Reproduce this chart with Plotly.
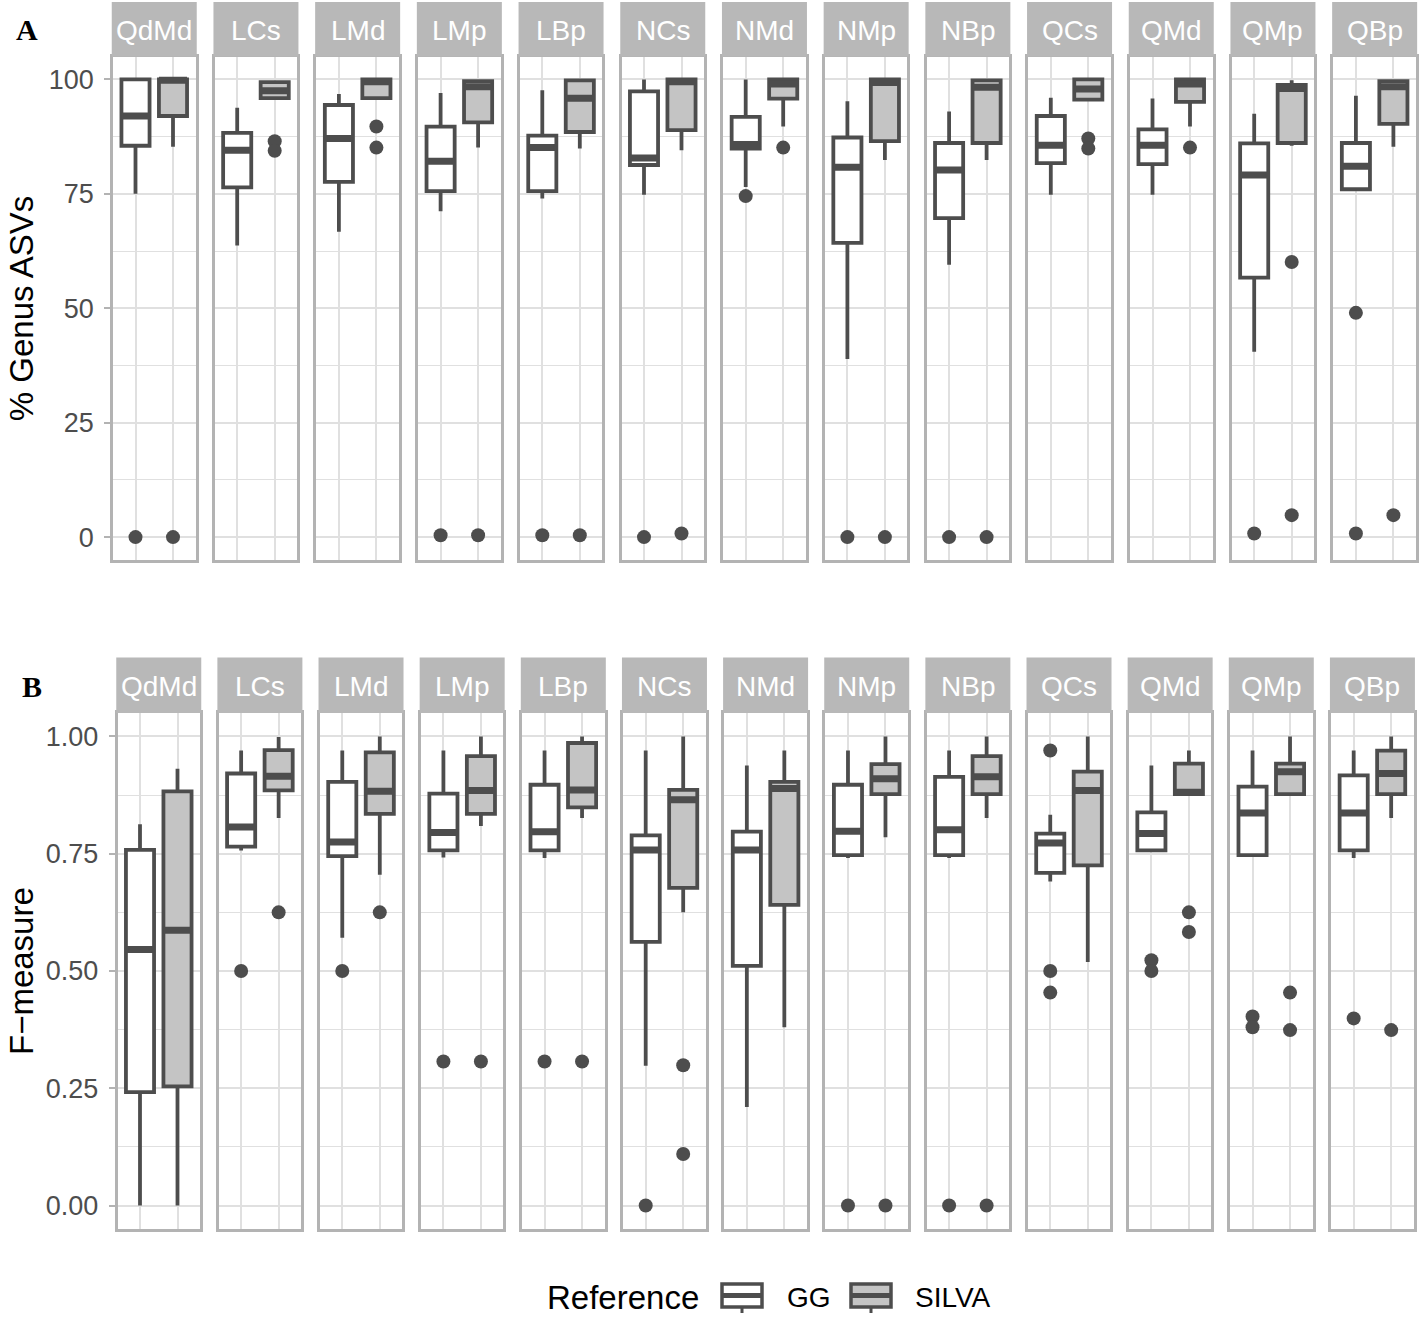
import plotly.graph_objects as go

panels = ["QdMd", "LCs", "LMd", "LMp", "LBp", "NCs", "NMd",
          "NMp", "NBp", "QCs", "QMd", "QMp", "QBp"]
references = ["GG", "SILVA"]

# A: % Genus ASVs, box statistics per panel
a_gg_low = [75, 63.7, 66.7, 71.2, 74, 74.8, 76.5, 38.9, 59.5, 74.8, 74.8, 40.5, 75.6]
a_gg_q1 = [85.5, 76.4, 77.6, 75.6, 75.6, 81.3, 84.9, 64.3, 69.7, 81.7, 81.5, 56.7, 76]
a_gg_med = [92, 84.5, 87.1, 82.1, 85.1, 82.8, 85.8, 80.8, 80.2, 85.6, 85.6, 79.1, 81]
a_gg_q3 = [100, 88.3, 94.4, 89.7, 87.7, 97.4, 91.8, 87.3, 86.1, 92, 89.1, 86, 86.1]
a_gg_high = [100, 93.8, 96.8, 97, 97.6, 100, 100, 95.2, 93, 96, 95.8, 92.5, 96.4]
a_gg_out = [[0], [], [], [0.4], [0.4], [0], [74.5], [0], [0], [], [], [0.8], [49, 0.8]]

a_silva_low = [85.3, 95.9, 95.9, 85.1, 84.9, 84.5, 89.7, 82.4, 82.4, 95.6, 89.7, 85.5, 85.3]
a_silva_q1 = [92, 95.9, 95.9, 90.6, 88.5, 88.9, 95.8, 86.5, 86.1, 95.6, 95.1, 86.1, 90.3]
a_silva_med = [99.8, 97.5, 99.5, 98.4, 95.9, 99.5, 99, 99.3, 98.3, 97.9, 99, 98, 98.4]
a_silva_q3 = [100, 99.4, 100, 99.6, 99.8, 100, 100, 100, 99.8, 100, 100, 98.8, 99.6]
a_silva_high = [100, 99.4, 100, 100, 100, 100, 100, 100, 100, 100, 100, 99.8, 100]
a_silva_out = [[0], [86.5, 84.4], [89.7, 85.1], [0.4], [0.4], [0.8], [85.1], [0], [0],
               [87.1, 84.9], [85.1], [60.1, 4.8], [4.8]]

# B: F-measure
b_gg_low = [0, 0.757, 0.571, 0.742, 0.741, 0.298, 0.210, 0.741, 0.741, 0.691, 0.757, 0.747, 0.741]
b_gg_q1 = [0.242, 0.765, 0.745, 0.757, 0.757, 0.562, 0.511, 0.747, 0.747, 0.709, 0.757, 0.747, 0.757]
b_gg_med = [0.546, 0.807, 0.775, 0.795, 0.797, 0.758, 0.758, 0.798, 0.801, 0.773, 0.793, 0.837, 0.837]
b_gg_q3 = [0.758, 0.921, 0.903, 0.878, 0.897, 0.789, 0.797, 0.897, 0.914, 0.793, 0.838, 0.893, 0.917]
b_gg_high = [0.813, 0.970, 0.970, 0.970, 0.970, 0.970, 0.938, 0.970, 0.970, 0.833, 0.938, 0.970, 0.970]
b_gg_out = [[], [0.5], [0.5], [0.307], [0.307], [0], [], [0], [0],
            [0.970, 0.5, 0.454], [0.523, 0.5], [0.403, 0.380], [0.399]]

b_silva_low = [0, 0.826, 0.705, 0.809, 0.826, 0.625, 0.380, 0.785, 0.826, 0.519, 0.877, 0.877, 0.826]
b_silva_q1 = [0.254, 0.885, 0.835, 0.835, 0.849, 0.677, 0.641, 0.877, 0.877, 0.725, 0.877, 0.877, 0.877]
b_silva_med = [0.587, 0.915, 0.883, 0.885, 0.886, 0.865, 0.889, 0.910, 0.914, 0.885, 0.881, 0.925, 0.921]
b_silva_q3 = [0.883, 0.971, 0.966, 0.958, 0.986, 0.886, 0.903, 0.941, 0.958, 0.925, 0.942, 0.942, 0.970]
b_silva_high = [0.931, 0.999, 1.0, 1.0, 1.0, 1.0, 0.970, 1.0, 1.0, 1.0, 0.970, 1.0, 1.0]
b_silva_out = [[], [0.625], [0.625], [0.307], [0.307], [0.299, 0.110], [], [0], [0],
               [], [0.625, 0.583], [0.454, 0.374], [0.374]]

a_ticks = [0, 25, 50, 75, 100]
a_ticklabels = ["0", "25", "50", "75", "100"]
a_minor = [12.5, 37.5, 62.5, 87.5]
b_ticks = [0, 0.25, 0.5, 0.75, 1.0]
b_ticklabels = ["0.00", "0.25", "0.50", "0.75", "1.00"]
b_minor = [0.125, 0.375, 0.625, 0.875]

W, H = 1424, 1320
FONT = "Liberation Sans"
LINE = "#4d4d4d"
BORDER = "#b3b3b3"
GRID = "#e0e0e0"
STRIP = "#b8b8b8"
FILLS = {"GG": "white", "SILVA": "#c4c4c4"}
BOX_W = 0.75
PANEL_W = 82.5

rows = [
    dict(
        stats={"GG": (a_gg_low, a_gg_q1, a_gg_med, a_gg_q3, a_gg_high, a_gg_out),
               "SILVA": (a_silva_low, a_silva_q1, a_silva_med, a_silva_q3, a_silva_high, a_silva_out)},
        left=113, pitch=101.7, strip_top=2, panel_top=56.5, panel_bottom=560,
        yrange=[-5, 105], ticks=a_ticks, ticklabels=a_ticklabels, minor=a_minor,
        title="% Genus ASVs", tag="A", tag_xy=(27, 30),
    ),
    dict(
        stats={"GG": (b_gg_low, b_gg_q1, b_gg_med, b_gg_q3, b_gg_high, b_gg_out),
               "SILVA": (b_silva_low, b_silva_q1, b_silva_med, b_silva_q3, b_silva_high, b_silva_out)},
        left=117.5, pitch=101.14, strip_top=657.5, panel_top=713, panel_bottom=1229,
        yrange=[-0.05, 1.05], ticks=b_ticks, ticklabels=b_ticklabels, minor=b_minor,
        title="F\u2212measure", tag="B", tag_xy=(32, 686),
    ),
]


def px_x(x):
    return x / W


def px_y(y):
    return 1 - y / H


def text(s, x, y, size, color="black", family=FONT, angle=0, anchor="center"):
    return dict(text=s, xref="paper", yref="paper", x=px_x(x), y=px_y(y),
                xanchor=anchor, yanchor="middle", textangle=angle, showarrow=False,
                font=dict(family=family, size=size, color=color))


fig = go.Figure()
layout = {}
shapes = []
annotations = []

for r, row in enumerate(rows):
    for i, name in enumerate(panels):
        k = r * len(panels) + i + 1
        xa = "x" if k == 1 else f"x{k}"
        ya = "y" if k == 1 else f"y{k}"
        x0 = row["left"] + i * row["pitch"]
        x1 = x0 + PANEL_W
        first = i == 0

        for j, ref in enumerate(references):
            low, q1, med, q3, high, out = row["stats"][ref]
            pos = j + 1
            fig.add_trace(go.Box(
                x=[pos], lowerfence=[low[i]], q1=[q1[i]], median=[med[i]],
                q3=[q3[i]], upperfence=[high[i]], width=BOX_W, whiskerwidth=0,
                fillcolor=FILLS[ref], line=dict(color=LINE, width=3.8),
                boxpoints=False, name=ref, showlegend=False, hoverinfo="skip",
                xaxis=xa, yaxis=ya,
            ))
            # ggplot draws the median thicker than the box outline
            fig.add_trace(go.Scatter(
                x=[pos - BOX_W / 2, pos + BOX_W / 2], y=[med[i], med[i]],
                mode="lines", line=dict(color=LINE, width=7),
                showlegend=False, hoverinfo="skip", xaxis=xa, yaxis=ya,
            ))
            if out[i]:
                fig.add_trace(go.Scatter(
                    x=[pos] * len(out[i]), y=out[i], mode="markers",
                    marker=dict(size=14, color=LINE),
                    showlegend=False, hoverinfo="skip", xaxis=xa, yaxis=ya,
                ))

        layout["xaxis" if k == 1 else f"xaxis{k}"] = dict(
            domain=[px_x(x0), px_x(x1)], anchor=ya, range=[0.4, 2.6],
            tickvals=[1, 2], showticklabels=False, ticks="",
            showgrid=True, gridcolor=GRID, gridwidth=2, zeroline=False,
            showline=True, mirror=True, linecolor=BORDER, linewidth=2.5,
            automargin=False, fixedrange=True,
        )
        layout["yaxis" if k == 1 else f"yaxis{k}"] = dict(
            domain=[px_y(row["panel_bottom"]), px_y(row["panel_top"])], anchor=xa,
            range=row["yrange"], tickvals=row["ticks"], ticktext=row["ticklabels"],
            showticklabels=first, ticks="outside" if first else "",
            ticklen=6, tickwidth=2, tickcolor=BORDER,
            tickfont=dict(family=FONT, size=27, color=LINE), ticklabelstandoff=5,
            showgrid=True, gridcolor=GRID, gridwidth=2, zeroline=False,
            minor=dict(tickvals=row["minor"], showgrid=True, gridcolor=GRID,
                       gridwidth=1.3, ticks=""),
            showline=True, mirror=True, linecolor=BORDER, linewidth=2.5,
            automargin=False, fixedrange=True,
        )

        shapes.append(dict(
            type="rect", xref="paper", yref="paper",
            x0=px_x(x0 - 1.25), x1=px_x(x1 + 1.25),
            y0=px_y(row["panel_top"]), y1=px_y(row["strip_top"]),
            fillcolor=STRIP, line=dict(width=0),
        ))
        annotations.append(text(name, (x0 + x1) / 2,
                                (row["strip_top"] + row["panel_top"]) / 2 + 1,
                                28, color="white"))

    annotations.append(text(row["title"], 21, (row["panel_top"] + row["panel_bottom"]) / 2,
                            33, angle=-90))
    annotations.append(text(f"<b>{row['tag']}</b>", row["tag_xy"][0], row["tag_xy"][1],
                            30, family="Liberation Serif"))

# legend, drawn like the ggplot key: box with median line and a whisker stub
annotations.append(text("Reference", 545, 1297, 33, anchor="left"))
legend_keys = [("GG", 722, 785), ("SILVA", 851, 913)]
for ref, kx, tx in legend_keys:
    shapes.append(dict(type="rect", xref="paper", yref="paper",
                       x0=px_x(kx), x1=px_x(kx + 40), y0=px_y(1307), y1=px_y(1284),
                       fillcolor=FILLS[ref], line=dict(color=LINE, width=3.5)))
    shapes.append(dict(type="line", xref="paper", yref="paper",
                       x0=px_x(kx), x1=px_x(kx + 40), y0=px_y(1295.5), y1=px_y(1295.5),
                       line=dict(color=LINE, width=5)))
    shapes.append(dict(type="line", xref="paper", yref="paper",
                       x0=px_x(kx + 20), x1=px_x(kx + 20), y0=px_y(1307), y1=px_y(1313),
                       line=dict(color=LINE, width=3)))
    annotations.append(text(ref, tx, 1297, 28, anchor="left"))

fig.update_layout(
    template="none",
    width=W, height=H,
    margin=dict(l=0, r=0, t=0, b=0, pad=0),
    paper_bgcolor="white", plot_bgcolor="white",
    font=dict(family=FONT, color="black"),
    showlegend=False,
    shapes=shapes, annotations=annotations,
    **layout,
)

fig.write_html("out.html", config={"displayModeBar": False},
               post_script="document.body.style.margin='0';")
